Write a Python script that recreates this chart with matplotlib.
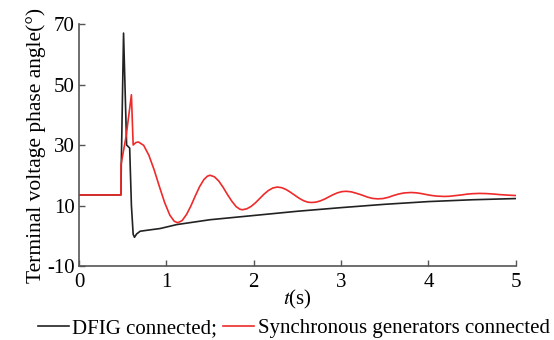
import matplotlib
matplotlib.use("Agg")
import matplotlib.pyplot as plt

# ---- data ----
t_dfig = [0.0, 0.48, 0.485, 0.51, 0.545, 0.58, 0.60, 0.62, 0.635, 0.66, 0.70, 0.80, 0.93,
          1.12, 1.5, 2.0, 2.5, 3.0, 3.5, 4.0, 4.5, 5.0]
v_dfig = [13.5, 13.5, 25.0, 67.0, 30.0, 29.0, 10.0, 0.5, -0.5, 0.6, 1.5, 1.9, 2.4,
          3.7, 5.3, 6.7, 8.1, 9.3, 10.4, 11.3, 11.9, 12.3]

t_sync = [0.0, 0.48, 0.481, 0.54, 0.60, 0.62, 0.65, 0.68, 0.74, 0.80, 0.86, 0.92,
          0.98, 1.04, 1.09, 1.13, 1.18, 1.23, 1.28, 1.33, 1.38, 1.43, 1.47, 1.50,
          1.55, 1.60, 1.65, 1.70, 1.75, 1.80, 1.84, 1.87, 1.92, 1.97, 2.02, 2.07,
          2.12, 2.17, 2.22, 2.27, 2.32, 2.37, 2.42, 2.47, 2.52, 2.57, 2.62, 2.66,
          2.71, 2.76, 2.81, 2.86, 2.91, 2.96, 3.01, 3.06, 3.12, 3.18, 3.24, 3.30,
          3.36, 3.42, 3.48, 3.54, 3.60, 3.66, 3.72, 3.80, 3.86, 3.92, 3.98, 4.04,
          4.10, 4.18, 4.24, 4.30, 4.38, 4.44, 4.50, 4.58, 4.66, 4.74, 4.82, 4.90, 5.0]
v_sync = [13.5, 13.5, 23.5, 33.0, 46.6, 30.0, 30.8, 31.0, 29.9, 26.6, 21.8, 16.3,
          11.0, 6.8, 4.8, 4.3, 5.0, 7.0, 9.8, 13.1, 16.2, 18.6, 19.7, 20.0,
          19.5, 18.1, 16.0, 13.6, 11.4, 9.6, 8.8, 8.6, 8.9, 9.7, 10.9, 12.35,
          13.8, 15.0, 15.8, 16.1, 15.9, 15.3, 14.4, 13.4, 12.4, 11.6, 11.1, 11.0,
          11.1, 11.5, 12.1, 12.85, 13.6, 14.2, 14.6, 14.7, 14.5, 14.0, 13.45, 12.8,
          12.35, 12.2, 12.3, 12.7, 13.3, 13.8, 14.15, 14.3, 14.2, 13.95, 13.6, 13.3,
          13.1, 13.0, 13.05, 13.25, 13.5, 13.75, 13.9, 14.0, 13.95, 13.8, 13.6, 13.45, 13.3]

x_ticks = [0, 1, 2, 3, 4, 5]
y_ticks = [-10, 10, 30, 50, 70]
labels = ["DFIG connected;", "Synchronous generators connected"]

plt.rcParams['font.family'] = ['Liberation Serif', 'DejaVu Serif']
plt.rcParams['mathtext.fontset'] = 'stix'
plt.rcParams['axes.unicode_minus'] = False

fig = plt.figure(figsize=(5.54, 3.40), dpi=100)
ax = fig.add_axes([0.1426, 0.2176, 0.7884, 0.7118])

l1, = ax.plot(t_dfig, v_dfig, color='#222222', lw=1.2)
l2, = ax.plot(t_sync, v_sync, color='#ee2a2a', lw=1.2)

ax.set_xlim(0, 5)
ax.set_ylim(-10, 70)
ax.set_xticks(x_ticks)
ax.set_yticks(y_ticks)
for s in ['top', 'right']:
    ax.spines[s].set_visible(False)
for s in ['left', 'bottom']:
    ax.spines[s].set_color('#555555')
    ax.spines[s].set_linewidth(1.2)
ax.tick_params(direction='in', length=4, width=1.0, color='#555555',
               labelsize=15, pad=3)
ax.tick_params(axis='x', pad=5)
ax.set_ylabel('Terminal voltage phase angle(°)', fontsize=15.5, labelpad=1)
ax.set_xlabel('$t$(s)', fontsize=15, labelpad=-3)

fig.legend([l1, l2], labels, loc='center', bbox_to_anchor=(0.53, 0.035),
           ncol=2, frameon=False, fontsize=15, handlelength=1.5,
           handletextpad=0.15, columnspacing=0.3, borderpad=0, borderaxespad=0)

fig.savefig('out.png', dpi=100)
